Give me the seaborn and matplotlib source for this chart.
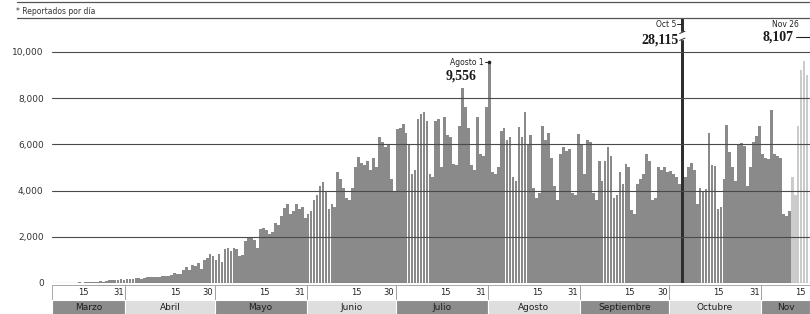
import numpy as np
import pandas as pd
import seaborn as sns
import matplotlib.pyplot as plt
import matplotlib.transforms as mtransforms
from matplotlib.patches import Rectangle
from matplotlib.lines import Line2D

# casos reportados por dia (lectura aproximada del grafico)
inicio = "2020-03-07"
marzo = [2, 0, 0, 2, 4, 4, 4, 15, 12, 29, 11, 25, 29, 39, 38, 48, 65, 51, 71, 110,
         109, 132, 131, 169, 146]
abril = [163, 178, 163, 215, 195, 190, 230, 260, 250, 265, 280, 250, 290, 300, 320,
         350, 420, 380, 400, 580, 700, 550, 800, 720, 850, 600, 1000, 1100, 1250, 1150]
mayo = [1000, 1250, 900, 1450, 1500, 1400, 1500, 1450, 1150, 1200, 1800, 1950, 2000,
        1850, 1500, 2350, 2400, 2300, 2100, 2200, 2600, 2500, 2900, 3250, 3400, 3000,
        3100, 3400, 3200, 3300, 2800]
junio = [3000, 3100, 3600, 3800, 4200, 4350, 4000, 3200, 3400, 3300, 4800, 4500, 4100,
         3700, 3600, 4100, 5000, 5450, 5200, 5100, 5300, 4900, 5400, 5000, 6300, 6100,
         5900, 6000, 4500, 4000]
julio = [6650, 6700, 6900, 6500, 6000, 4700, 4900, 7100, 7300, 7400, 7000, 4700, 4600,
         7000, 7100, 5000, 7200, 6400, 6300, 5150, 5100, 6800, 8450, 7600, 6700, 5100,
         4900, 7200, 5600, 5500, 7600]
agosto = [9556, 4800, 4700, 5000, 6600, 6700, 6200, 6300, 4600, 4400, 6750, 6300, 7400,
          6000, 6400, 4100, 3700, 3900, 6800, 6200, 6500, 5400, 4200, 3600, 5600, 5900,
          5700, 5800, 3900, 3800, 6430]
septiembre = [6000, 4700, 6200, 6100, 3900, 3600, 5300, 4400, 5300, 5900, 5500, 3700,
              3800, 4800, 4300, 5150, 5000, 3150, 3000, 4300, 4500, 4700, 5570, 5300,
              3600, 3700, 5000, 4900, 5000, 4800]
octubre = [4850, 4700, 4600, 4300, 28115, 4600, 5000, 5200, 4900, 3400, 4100, 3950, 4050,
           6500, 5100, 5070, 3200, 3300, 4500, 6850, 5650, 5000, 4400, 6000, 6070, 5950,
           4200, 5000, 6100, 6350, 6800]
noviembre = [5600, 5400, 5350, 7500, 5600, 5500, 5400, 3000, 2900, 3100, 4600, 3800,
             6800, 9200, 9600, 9000]
inicio_claro = "2020-11-11"

meses = ["Marzo", "Abril", "Mayo", "Junio", "Julio", "Agosto", "Septiembre", "Octubre", "Nov"]
inicio_mes = ["2020-03-01", "2020-04-01", "2020-05-01", "2020-06-01", "2020-07-01",
              "2020-08-01", "2020-09-01", "2020-10-01", "2020-11-01", "2020-12-01"]
fin_mes = ["31", "30", "31", "30", "31", "31", "30", "31", None]
y_ticks = [0, 2000, 4000, 6000, 8000, 10000]

casos = marzo + abril + mayo + junio + julio + agosto + septiembre + octubre + noviembre
origen = pd.Timestamp("2020-03-01")
df = pd.DataFrame({"fecha": pd.date_range(inicio, periods=len(casos)), "casos": casos})
df["dia"] = (df["fecha"] - origen).dt.days
df["tramo"] = np.where(df["fecha"] >= pd.Timestamp(inicio_claro), "reciente", "base")
df.loc[df["fecha"] == pd.Timestamp("2020-10-05"), "tramo"] = "pico"

sns.set_style("white")
sans = ["Liberation Sans Narrow", "DejaVu Sans"]
plt.rcParams["font.family"] = sans

fig = plt.figure(figsize=(8.1, 3.14), dpi=100)
ax = fig.add_axes([52 / 810, 31 / 314, 758 / 810, 265 / 314])

sns.barplot(data=df, x="dia", y="casos", hue="tramo", native_scale=True, dodge=False,
            palette={"base": "#8a8a8a", "reciente": "#cbcbcb", "pico": "#2e2e2e"},
            width=0.92, linewidth=0, errorbar=None, legend=False, ax=ax, zorder=2)

xmin, xmax = 5.75, 261
ax.set_xlim(xmin, xmax)
ax.set_ylim(0, 11470)
ax.set_xlabel("")
ax.set_ylabel("")
ax.set_xticks([])
ax.set_yticks(y_ticks)
ax.set_yticklabels([f"{v:,}" for v in y_ticks], fontsize=6.5, color="#333333")
ax.tick_params(axis="y", length=0, pad=6)
for s in ax.spines.values():
    s.set_visible(False)
# en el original las guias cruzan por encima de las barras
for v in y_ticks:
    ax.axhline(v, color="#4a4a4a", lw=0.8, zorder=3)

# linea superior y nota
for yy in (2, 18):
    fig.add_artist(Line2D([17 / 810, 1], [1 - yy / 314] * 2, color="#555555", lw=0.9))
fig.text(16 / 810, 1 - 12 / 314, "* Reportados por día", fontsize=5.5, color="#333333",
         va="center", ha="left")

# corte en la barra del 5 de octubre
d_oct5 = (pd.Timestamp("2020-10-05") - origen).days
ax.add_patch(Rectangle((d_oct5 - 0.8, 10550), 1.6, 300, color="white", zorder=5))
ax.plot([d_oct5 - 0.9, d_oct5 + 0.9], [10500, 10600], color="#2e2e2e", lw=0.7, zorder=6)
ax.plot([d_oct5 - 0.9, d_oct5 + 0.9], [10800, 10900], color="#2e2e2e", lw=0.7, zorder=6)

# anotaciones
serif = dict(family="Liberation Serif", fontweight="bold", fontsize=10, color="#1a1a1a")
d_ago1 = (pd.Timestamp("2020-08-01") - origen).days
ax.plot([d_ago1 - 1.6, d_ago1], [9556, 9556], color="#222222", lw=0.7)
ax.plot([d_ago1], [9556], marker="o", ms=1.6, color="#222222")
ax.text(d_ago1 - 1.9, 9556, "Agosto 1", fontsize=5.5, ha="right", va="center", color="#222222")
ax.text(d_ago1 - 14.6, 8960, "9,556", ha="left", va="center", **serif)

ax.plot([d_oct5 - 1.8, d_oct5], [11210, 11210], color="#222222", lw=0.7)
ax.text(d_oct5 - 2.1, 11210, "Oct 5", fontsize=5.5, ha="right", va="center", color="#222222")
ax.text(d_oct5 - 1.3, 10520, "28,115", ha="right", va="center", **serif)

tr = mtransforms.blended_transform_factory(ax.transAxes, ax.transData)
ax.text(0.985, 11210, "Nov 26", fontsize=5.5, ha="right", va="center", color="#222222",
        transform=tr)
ax.text(0.978, 10650, "8,107", ha="right", va="center", transform=tr, **serif)
ax.plot([0.981, 1.0], [10650, 10650], color="#222222", lw=0.8, transform=tr, clip_on=False)

# bandas de meses
trb = mtransforms.blended_transform_factory(ax.transData, ax.transAxes)
dias_ini = [(pd.Timestamp(f) - origen).days for f in inicio_mes]
for i, mes in enumerate(meses):
    x0 = max(dias_ini[i] - 0.5, xmin)
    x1 = min(dias_ini[i + 1] - 0.5, xmax)
    oscuro = i % 2 == 0
    ax.add_patch(Rectangle((x0, -0.064), x1 - x0, 0.056, transform=trb, clip_on=False,
                           facecolor="white", edgecolor="#9a9a9a", lw=0.6))
    ax.add_patch(Rectangle((x0, -0.12), x1 - x0, 0.056, transform=trb, clip_on=False,
                           facecolor="#8c8c8c" if oscuro else "#dedede",
                           edgecolor="white", lw=0.8))
    ax.text((x0 + x1) / 2, -0.093, mes, transform=trb, fontsize=6.5, ha="center",
            va="center", color="#1e1e1e", clip_on=False)
    x15 = min(dias_ini[i] + 14.5, xmax - 0.4)
    ax.text(x15, -0.036, "15", transform=trb, fontsize=6,
            ha="left" if x15 < xmax - 3 else "right", va="center", color="#222222")
    if fin_mes[i]:
        ax.text(dias_ini[i + 1] - 1.0, -0.036, fin_mes[i], transform=trb, fontsize=6,
                ha="right", va="center", color="#222222")

fig.savefig("out.png", dpi=100, facecolor="white")
